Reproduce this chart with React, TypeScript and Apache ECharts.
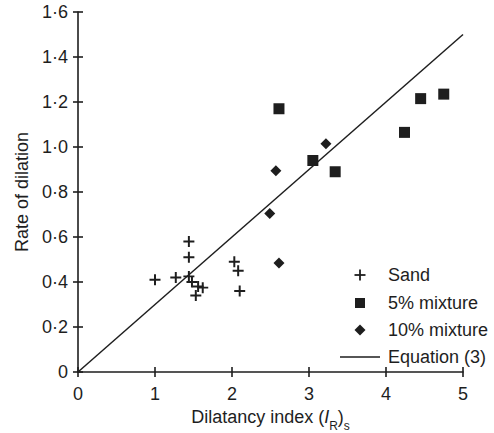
import React, { useEffect, useRef } from "react";
import * as echarts from "echarts";

const sandX = [1.0, 1.27, 1.44, 1.44, 1.44, 1.48, 1.56, 1.62, 1.53, 2.03, 2.08, 2.1];
const sandY = [0.41, 0.42, 0.58, 0.51, 0.425, 0.4, 0.38, 0.375, 0.34, 0.49, 0.45, 0.36];
const mix5X = [2.61, 3.05, 3.34, 4.24, 4.45, 4.75];
const mix5Y = [1.17, 0.94, 0.89, 1.065, 1.215, 1.235];
const mix10X = [2.49, 2.57, 2.61, 3.22];
const mix10Y = [0.705, 0.895, 0.485, 1.015];
const eqX = [0, 5];
const eqY = [0, 1.5];
const xTicks = [0, 1, 2, 3, 4, 5];
const yTicks = [0, 0.2, 0.4, 0.6, 0.8, 1.0, 1.2, 1.4, 1.6];
const legendNames = ["Sand", "5% mixture", "10% mixture", "Equation (3)"];

const FONT = "'Liberation Sans', Arial, Helvetica, sans-serif";
const INK = "#1e1e1e";
const FS = 18;
const PLUS = "path://M4.1,0H5.9V4.1H10V5.9H5.9V10H4.1V5.9H0V4.1H4.1Z";

const zip = (xs: number[], ys: number[]) => xs.map((x, i) => [x, ys[i]]);

export default function App() {
  const ref = useRef<HTMLDivElement>(null);
  useEffect(() => {
    if (!ref.current) return;
    const chart = echarts.init(ref.current, undefined, { renderer: "svg" });
    const axisCommon = {
      type: "value" as const,
      splitLine: { show: false },
    };
    const xBase = {
      ...axisCommon,
      min: xTicks[0],
      max: xTicks[xTicks.length - 1],
      interval: 1,
    };
    const yBase = {
      ...axisCommon,
      min: yTicks[0],
      max: yTicks[yTicks.length - 1],
      interval: 0.2,
    };
    const lx = 360;
    const tx = 388;
    const ly = [275, 303, 330, 357];
    chart.setOption({
      animation: false,
      backgroundColor: "#ffffff",
      textStyle: { fontFamily: FONT },
      grid: { left: 78, right: 31, top: 12, bottom: 61, containLabel: false, outerBoundsMode: "none" },
      xAxis: [
        {
          ...xBase,
          position: "bottom",
          axisLine: { show: true, lineStyle: { color: INK, width: 1.6 } },
          axisTick: { show: true, inside: false, length: 5, lineStyle: { color: INK, width: 1.6 } },
          axisLabel: {
            color: INK,
            fontSize: FS,
            fontFamily: FONT,
            margin: 13,
            formatter: (v: number) => String(v),
          },
          name: "{a|Dilatancy index (}{i|I}{s|R}{a|)}{s|s}",
          nameLocation: "middle",
          nameGap: 36,
          nameTextStyle: {
            color: INK,
            fontFamily: FONT,
            rich: {
              a: { fontSize: FS, fontFamily: FONT, color: INK, lineHeight: 24, verticalAlign: "top" },
              i: { fontSize: FS, fontFamily: FONT, color: INK, fontStyle: "italic", lineHeight: 24, verticalAlign: "top" },
              s: { fontSize: 12, fontFamily: FONT, color: INK, lineHeight: 14, verticalAlign: "bottom" },
            },
          },
        },
        {
          ...xBase,
          position: "bottom",
          axisLine: { show: false },
          axisTick: { show: true, inside: true, length: 5, lineStyle: { color: INK, width: 1.6 } },
          axisLabel: { show: false },
        },
      ],
      yAxis: [
        {
          ...yBase,
          position: "left",
          axisLine: { show: true, lineStyle: { color: INK, width: 1.6 } },
          axisTick: { show: true, inside: false, length: 5, lineStyle: { color: INK, width: 1.6 } },
          axisLabel: {
            color: INK,
            fontSize: FS,
            fontFamily: FONT,
            margin: 10,
            formatter: (v: number) => (v === 0 ? "0" : v.toFixed(1).replace(".", "\u00b7")),
          },
          name: "Rate of dilation",
          nameLocation: "middle",
          nameGap: 47,
          nameTextStyle: { color: INK, fontSize: FS, fontFamily: FONT },
        },
        {
          ...yBase,
          position: "left",
          axisLine: { show: false },
          axisTick: { show: true, inside: true, length: 5, lineStyle: { color: INK, width: 1.6 } },
          axisLabel: { show: false },
        },
      ],
      series: [
        {
          name: legendNames[0],
          type: "scatter",
          data: zip(sandX, sandY),
          symbol: PLUS,
          symbolSize: 11,
          itemStyle: { color: INK, opacity: 1 },
        },
        {
          name: legendNames[1],
          type: "scatter",
          data: zip(mix5X, mix5Y),
          symbol: "rect",
          symbolSize: 11,
          itemStyle: { color: INK, opacity: 1 },
        },
        {
          name: legendNames[2],
          type: "scatter",
          data: zip(mix10X, mix10Y),
          symbol: "diamond",
          symbolSize: 11,
          itemStyle: { color: INK, opacity: 1 },
        },
        {
          name: legendNames[3],
          type: "line",
          data: zip(eqX, eqY),
          showSymbol: false,
          symbol: "none",
          lineStyle: { color: INK, width: 1.5 },
          z: 1,
        },
      ],
      graphic: [
        { type: "rect", shape: { x: lx - 5.5, y: ly[0] - 0.9, width: 11, height: 1.8 }, style: { fill: INK } },
        { type: "rect", shape: { x: lx - 0.9, y: ly[0] - 5.5, width: 1.8, height: 11 }, style: { fill: INK } },
        { type: "rect", shape: { x: lx - 5, y: ly[1] - 5, width: 10, height: 10 }, style: { fill: INK } },
        {
          type: "polygon",
          shape: { points: [[lx, ly[2] - 5.5], [lx + 5.5, ly[2]], [lx, ly[2] + 5.5], [lx - 5.5, ly[2]]] },
          style: { fill: INK },
        },
        { type: "line", shape: { x1: 340, y1: ly[3], x2: 380, y2: ly[3] }, style: { stroke: INK, lineWidth: 1.5 } },
        ...legendNames.map((n, i) => ({
          type: "text",
          x: tx,
          y: ly[i],
          style: { text: n, fill: INK, fontSize: FS, fontFamily: FONT, verticalAlign: "middle", align: "left" },
        })),
      ],
    });
    return () => chart.dispose();
  }, []);
  return <div ref={ref} style={{ position: "fixed", left: 0, top: 0, width: 494, height: 433 }} />;
}
